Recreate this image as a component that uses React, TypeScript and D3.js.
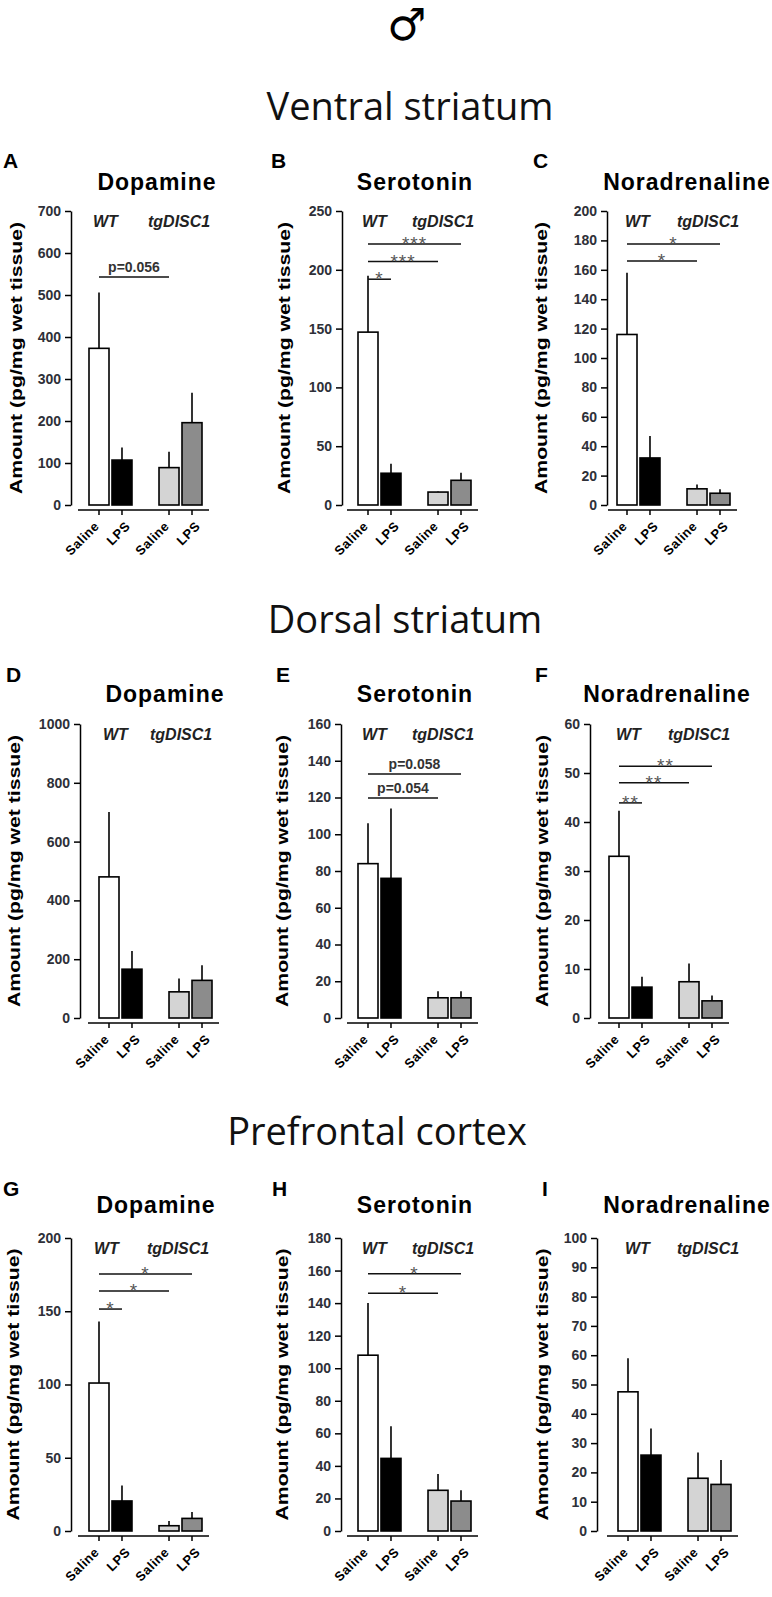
import React, { useEffect, useRef } from 'react';
import * as d3 from 'd3';

const sexSymbol = '\u2642';
const regions = ['Ventral striatum', 'Dorsal striatum', 'Prefrontal cortex'];
const transmitters = ['Dopamine', 'Serotonin', 'Noradrenaline'];
const panelLetters = ['A', 'B', 'C', 'D', 'E', 'F', 'G', 'H', 'I'];
const genotypes = ['WT', 'tgDISC1'];
const treatments = ['Saline', 'LPS'];
const yLabel = 'Amount (pg/mg wet tissue)';

// bar order: WT Saline, WT LPS, tgDISC1 Saline, tgDISC1 LPS
const means = [
  [373, 107, 89, 196],
  [147, 27, 11, 21],
  [116, 32, 11, 8],
  [480, 166, 89, 128],
  [84, 76, 11, 11],
  [33, 6.3, 7.4, 3.5],
  [101, 20.5, 3.6, 8.6],
  [108, 44.6, 25, 18.4],
  [47.5, 25.9, 18, 15.9],
];
const sems = [
  [133, 30, 38, 71],
  [48, 8, 0.5, 6.5],
  [42, 15, 3, 2.7],
  [221, 62, 45, 51],
  [22, 38, 3.5, 3.5],
  [9.3, 2.1, 3.7, 1.1],
  [42, 10.5, 3.2, 4.4],
  [32, 19.8, 10, 6.6],
  [11.5, 9.1, 8.8, 8.3],
];
const yMax = [700, 250, 200, 1000, 160, 60, 200, 180, 100];
const yStep = [100, 50, 20, 200, 20, 10, 50, 20, 10];

// significance bars: from WT Saline to bar `to`, drawn at `level` (data units)
const comparisons = [
  [{ to: 2, label: 'p=0.056', level: 543 }],
  [
    { to: 1, label: '*', level: 192 },
    { to: 2, label: '***', level: 207 },
    { to: 3, label: '***', level: 222 },
  ],
  [
    { to: 2, label: '*', level: 166 },
    { to: 3, label: '*', level: 177.5 },
  ],
  [],
  [
    { to: 2, label: 'p=0.054', level: 119.7 },
    { to: 3, label: 'p=0.058', level: 132.8 },
  ],
  [
    { to: 1, label: '**', level: 43.9 },
    { to: 2, label: '**', level: 48 },
    { to: 3, label: '**', level: 51.4 },
  ],
  [
    { to: 1, label: '*', level: 151.5 },
    { to: 2, label: '*', level: 163.8 },
    { to: 3, label: '*', level: 175.4 },
  ],
  [
    { to: 2, label: '*', level: 146 },
    { to: 3, label: '*', level: 158 },
  ],
  [],
];

const barFill = ['#ffffff', '#000000', '#d4d4d4', '#8c8c8c'];

// layout of the rows and panels (pixels)
const rowBox = [
  { top: 211, zero: 505, titleY: 190, letterY: 168, headX: 410, headY: 120 },
  { top: 724, zero: 1018, titleY: 702, letterY: 682, headX: 405, headY: 633 },
  { top: 1238, zero: 1531, titleY: 1213, letterY: 1196, headX: 377, headY: 1145 },
];
const panelBox = [
  { axisX: 71, barX: 89, xStart: 78, titleX: 157, letterX: 3, labX: 17, wtX: 93, tgX: 148 },
  { axisX: 342, barX: 358, xStart: 347, titleX: 415, letterX: 271, labX: 285, wtX: 362, tgX: 412 },
  { axisX: 607, barX: 617, xStart: 608, titleX: 687, letterX: 533, labX: 542, wtX: 625, tgX: 677 },
  { axisX: 80, barX: 99, xStart: 88, titleX: 165, letterX: 6, labX: 15, wtX: 103, tgX: 150 },
  { axisX: 341, barX: 358, xStart: 347, titleX: 415, letterX: 276, labX: 283, wtX: 362, tgX: 412 },
  { axisX: 590, barX: 609, xStart: 598, titleX: 667, letterX: 535, labX: 543, wtX: 616, tgX: 668 },
  { axisX: 71, barX: 89, xStart: 78, titleX: 156, letterX: 3, labX: 14, wtX: 94, tgX: 147 },
  { axisX: 341, barX: 358, xStart: 347, titleX: 415, letterX: 272, labX: 283, wtX: 362, tgX: 412 },
  { axisX: 597, barX: 618, xStart: 607, titleX: 687, letterX: 542, labX: 543, wtX: 625, tgX: 677 },
];

const FONT = 'Liberation Sans, Arial, sans-serif';

const App = () => {
  const svgRef = useRef<SVGSVGElement | null>(null);

  useEffect(() => {
    const svg = d3.select(svgRef.current);
    svg.selectAll('*').remove();

    svg.append('text')
      .attr('x', 407).attr('y', 40)
      .attr('text-anchor', 'middle')
      .attr('font-family', 'DejaVu Sans')
      .attr('font-size', 44)
      .text(sexSymbol);

    regions.forEach((region, r) => {
      const row = rowBox[r];
      svg.append('text')
        .attr('x', row.headX).attr('y', row.headY)
        .attr('text-anchor', 'middle')
        .attr('font-family', 'Open Sans')
        .attr('font-size', 38)
        .attr('fill', '#111')
        .text(region);

      transmitters.forEach((name, c) => {
        const i = r * 3 + c;
        const p = panelBox[i];
        const g = svg.append('g').attr('font-family', FONT);

        const y = d3.scaleLinear().domain([0, yMax[i]]).range([row.zero, row.top]);
        const xg = d3.scaleBand().domain(genotypes).range([p.barX, p.barX + 113]).paddingInner(0.386);
        const xt = d3.scaleBand().domain(treatments).range([0, xg.bandwidth()]).paddingInner(0.13);
        const bars = genotypes.flatMap((gt, gi) => treatments.map((tr, ti) => ({
          gt, tr, k: gi * 2 + ti, x: (xg(gt) as number) + (xt(tr) as number),
        })));
        const bw = xt.bandwidth();
        const cx = (k: number) => bars[k].x + bw / 2;

        // letter and title
        g.append('text')
          .attr('x', p.letterX).attr('y', row.letterY)
          .attr('font-size', 21).attr('font-weight', 'bold')
          .text(panelLetters[i]);
        g.append('text')
          .attr('x', p.titleX).attr('y', row.titleY)
          .attr('text-anchor', 'middle')
          .attr('font-size', 23).attr('font-weight', 'bold')
          .attr('letter-spacing', 1)
          .text(name);

        // y axis
        const yAxis = d3.axisLeft(y)
          .tickValues(d3.range(0, yMax[i] + yStep[i] / 2, yStep[i]))
          .tickFormat(d3.format('d'))
          .tickSize(6).tickSizeOuter(0).tickPadding(4);
        const ya = g.append('g').attr('transform', `translate(${p.axisX},0)`).call(yAxis);
        ya.select('.domain').attr('stroke', '#000').attr('stroke-width', 1.5);
        ya.selectAll('.tick line').attr('stroke', '#000').attr('stroke-width', 1.5);
        ya.selectAll('.tick text')
          .attr('font-family', FONT).attr('font-size', 14).attr('font-weight', 'bold')
          .attr('fill', '#2e3038');

        g.append('text')
          .attr('transform', `translate(${p.labX + 5},${(row.top + row.zero) / 2}) rotate(-90)`)
          .attr('text-anchor', 'middle')
          .attr('font-size', 16).attr('font-weight', 'bold')
          .attr('textLength', 272).attr('lengthAdjust', 'spacingAndGlyphs')
          .text(yLabel);

        // x axis
        const axY = row.zero + 5;
        g.append('line')
          .attr('x1', p.xStart).attr('x2', p.barX + 120)
          .attr('y1', axY).attr('y2', axY)
          .attr('stroke', '#000').attr('stroke-width', 1.5);
        g.selectAll('.xt').data(bars).join('line')
          .attr('x1', d => d.x + bw / 2).attr('x2', d => d.x + bw / 2)
          .attr('y1', axY).attr('y2', axY + 5)
          .attr('stroke', '#000').attr('stroke-width', 1.5);
        g.selectAll('.xl').data(bars).join('text')
          .attr('transform', d => `translate(${d.x + bw / 2 + (d.tr === 'LPS' ? 9 : 1)},${axY + 17}) rotate(-45)`)
          .attr('text-anchor', 'end')
          .attr('font-size', 13).attr('font-weight', 'bold')
          .attr('letter-spacing', 0.5)
          .text(d => d.tr);

        // genotype labels
        g.append('text')
          .attr('x', p.wtX).attr('y', row.top + 16)
          .attr('font-size', 16).attr('font-style', 'italic').attr('font-weight', 'bold')
          .attr('fill', '#222')
          .text(genotypes[0]);
        g.append('text')
          .attr('x', p.tgX).attr('y', row.top + 16)
          .attr('font-size', 16).attr('font-style', 'italic').attr('font-weight', 'bold')
          .attr('fill', '#222')
          .text(genotypes[1]);

        // error bars (upper only)
        g.selectAll('.err').data(bars).join('line')
          .attr('x1', d => d.x + bw / 2).attr('x2', d => d.x + bw / 2)
          .attr('y1', d => y(means[i][d.k])).attr('y2', d => y(means[i][d.k] + sems[i][d.k]))
          .attr('stroke', '#000').attr('stroke-width', 1.6);

        // bars
        g.selectAll('.bar').data(bars).join('rect')
          .attr('x', d => d.x).attr('width', bw)
          .attr('y', d => y(means[i][d.k]))
          .attr('height', d => y(0) - y(means[i][d.k]))
          .attr('fill', d => barFill[d.k])
          .attr('stroke', '#000').attr('stroke-width', 1.6);

        // significance
        comparisons[i].forEach(cmp => {
          const ly = y(cmp.level);
          const x1 = cx(0);
          const x2 = cx(cmp.to);
          g.append('line')
            .attr('x1', x1).attr('x2', x2).attr('y1', ly).attr('y2', ly)
            .attr('stroke', '#111').attr('stroke-width', 1.5);
          const star = cmp.label.startsWith('*');
          g.append('text')
            .attr('x', (x1 + x2) / 2).attr('y', star ? ly + 6 : ly - 5)
            .attr('text-anchor', 'middle')
            .attr('font-size', star ? 19 : 14).attr('font-weight', star ? 'normal' : 'bold')
            .attr('letter-spacing', star ? 1 : 0)
            .attr('fill', star ? '#555' : '#333')
            .text(cmp.label);
        });
      });
    });
  }, []);

  return (
    <svg
      ref={svgRef}
      width={772}
      height={1597}
      style={{ position: 'absolute', left: 0, top: 0, background: '#fff' }}
    />
  );
};

export default App;
